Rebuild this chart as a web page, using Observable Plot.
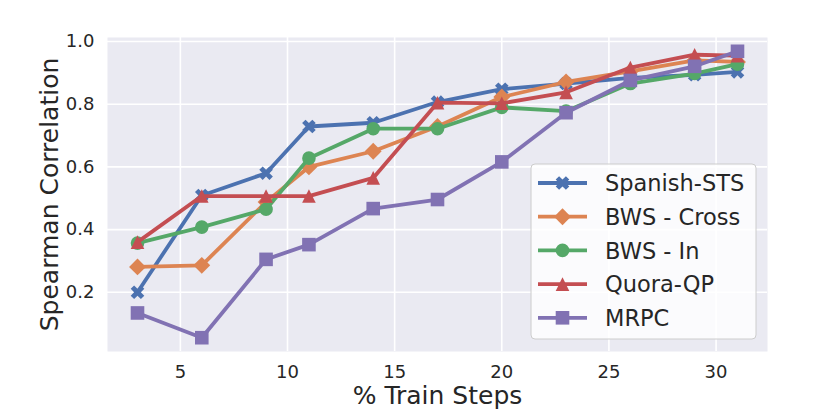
<!DOCTYPE html>
<html>
<head>
<meta charset="utf-8">
<script src="https://cdn.jsdelivr.net/npm/d3@7"></script>
<script src="https://cdn.jsdelivr.net/npm/@observablehq/plot@0.6"></script>
<style>
  html, body { margin: 0; padding: 0; background: white; }
  #chart { width: 830px; height: 415px; }
</style>
</head>
<body>
<div id="chart"></div>
<script>
// ---- data ----
const steps = [3, 6, 9, 11, 14, 17, 20, 23, 26, 29, 31];
const spanishSTS = [0.200, 0.509, 0.580, 0.729, 0.741, 0.807, 0.848, 0.866, 0.884, 0.894, 0.903];
const bwsCross   = [0.281, 0.286, 0.488, 0.600, 0.650, 0.729, 0.823, 0.871, 0.905, 0.940, 0.935];
const bwsIn      = [0.357, 0.408, 0.465, 0.628, 0.722, 0.722, 0.790, 0.778, 0.866, 0.898, 0.928];
const quoraQP    = [0.360, 0.507, 0.507, 0.507, 0.565, 0.805, 0.803, 0.838, 0.917, 0.958, 0.955];
const mrpc       = [0.134, 0.055, 0.305, 0.352, 0.467, 0.496, 0.616, 0.773, 0.876, 0.921, 0.969];
const seriesNames = ["Spanish-STS", "BWS - Cross", "BWS - In", "Quora-QP", "MRPC"];
const seriesValues = [spanishSTS, bwsCross, bwsIn, quoraQP, mrpc];
const xTicks = [5, 10, 15, 20, 25, 30];
const yTicks = [0.2, 0.4, 0.6, 0.8, 1.0];

// ---- styles ----
const colors = ["#4C72B0", "#DD8452", "#55A868", "#C44E52", "#8172B3"];
const diam = s => 2 * Math.sqrt(s / Math.PI);
const symX = {draw(ctx, size) {
  const s = diam(size);
  const v = [[-0.25,-0.5],[0,-0.25],[0.25,-0.5],[0.5,-0.25],[0.25,0],[0.5,0.25],[0.25,0.5],[0,0.25],[-0.25,0.5],[-0.5,0.25],[-0.25,0],[-0.5,-0.25]];
  v.forEach(([a,b], i) => i ? ctx.lineTo(a*s, b*s) : ctx.moveTo(a*s, b*s));
  ctx.closePath();
}};
const symDiamond = {draw(ctx, size) {
  const h = 0.62 * diam(size);
  ctx.moveTo(0, -h); ctx.lineTo(h, 0); ctx.lineTo(0, h); ctx.lineTo(-h, 0); ctx.closePath();
}};
const symCircle = {draw(ctx, size) {
  const r = diam(size) / 2;
  ctx.moveTo(r, 0); ctx.arc(0, 0, r, 0, 2 * Math.PI); ctx.closePath();
}};
const symTriangle = {draw(ctx, size) {
  const h = diam(size) / 2;
  ctx.moveTo(0, -h); ctx.lineTo(h, h); ctx.lineTo(-h, h); ctx.closePath();
}};
const symSquare = {draw(ctx, size) {
  const h = diam(size) / 2;
  ctx.moveTo(-h, -h); ctx.lineTo(h, -h); ctx.lineTo(h, h); ctx.lineTo(-h, h); ctx.closePath();
}};
const symbols = [symX, symDiamond, symCircle, symTriangle, symSquare];
const R = 6.8;
const LW = 3.8;

const tables = seriesValues.map(vals => steps.map((s, i) => ({step: s, value: vals[i]})));

const marks = [
  Plot.frame({fill: "#EAEAF2"}),
  Plot.gridX(xTicks, {stroke: "white", strokeOpacity: 1, strokeWidth: 1.6}),
  Plot.gridY(yTicks, {stroke: "white", strokeOpacity: 1, strokeWidth: 1.6}),
  Plot.axisX({ticks: xTicks, tickSize: 0, tickPadding: 14, fontSize: 18, label: null}),
  Plot.axisY({ticks: yTicks, tickSize: 0, tickPadding: 13, fontSize: 18, label: null, tickFormat: d3.format(".1f")}),
  Plot.text(["Spearman Correlation"], {frameAnchor: "left", dx: -50, rotate: -90, lineAnchor: "bottom", fontSize: 25, textAnchor: "middle"}),
  Plot.text(["% Train Steps"], {frameAnchor: "bottom", dy: 52, lineAnchor: "bottom", fontSize: 25, textAnchor: "middle"})
];
tables.forEach((t, k) => {
  marks.push(Plot.line(t, {x: "step", y: "value", stroke: colors[k], strokeWidth: LW, strokeLinejoin: "round"}));
  marks.push(Plot.dot(t, {x: "step", y: "value", fill: colors[k], stroke: "none", r: R, symbol: symbols[k]}));
});

const chart = Plot.plot({
  width: 830,
  height: 415,
  marginLeft: 107,
  marginRight: 63,
  marginTop: 37,
  marginBottom: 64,
  x: {domain: [1.6, 32.4]},
  y: {domain: [0.011, 1.013]},
  style: {fontFamily: "DejaVu Sans", color: "#262626", background: "white"},
  marks
});

// ---- legend ----
const svg = d3.select(chart);
const lg = svg.append("g").attr("font-family", "DejaVu Sans").attr("text-anchor", "start");
lg.append("rect").attr("x", 531).attr("y", 164).attr("width", 225).attr("height", 175)
  .attr("rx", 4).attr("fill", "white").attr("fill-opacity", 0.8).attr("stroke", "#cccccc").attr("stroke-width", 1);
seriesNames.forEach((name, k) => {
  const yy = 183 + k * 33.7;
  lg.append("line").attr("x1", 538).attr("x2", 587).attr("y1", yy).attr("y2", yy)
    .attr("stroke", colors[k]).attr("stroke-width", LW).attr("stroke-linecap", "butt");
  lg.append("path").attr("d", d3.symbol(symbols[k], Math.PI * R * R)())
    .attr("transform", `translate(562.5,${yy})`).attr("fill", colors[k]);
  lg.append("text").attr("x", 605).attr("y", yy).attr("dy", "0.36em")
    .attr("font-size", 22.5).attr("fill", "#262626").attr("text-anchor", "start").text(name);
});

document.getElementById("chart").appendChild(chart);
</script>
</body>
</html>
